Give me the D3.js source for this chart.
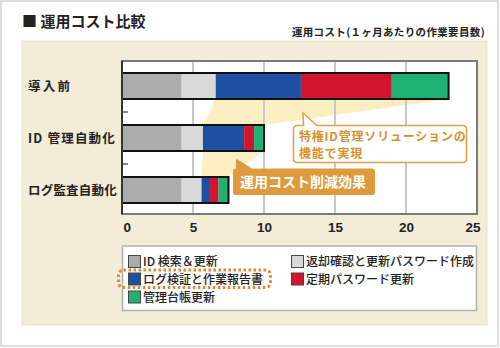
<!DOCTYPE html>
<html><head><meta charset="utf-8">
<script src="https://cdn.jsdelivr.net/npm/d3@7/dist/d3.min.js"></script>
<style>html,body{margin:0;padding:0;background:#fff;}svg{display:block;}</style>
</head><body>
<script>
// ---- data ----
const categories = ["導入前", "ID 管理自動化", "ログ監査自動化"];
const seriesNames = ["ID 検索＆更新", "返却確認と更新パスワード作成", "ログ検証と作業報告書", "定期パスワード更新", "管理台帳更新"];
const idSearch      = [4.2, 4.2, 4.2];
const returnConfirm = [2.4, 1.5, 1.4];
const logVerify     = [6.0, 2.9, 0.6];
const periodicPw    = [6.4, 0.7, 0.6];
const ledger        = [4.0, 0.7, 0.7];
const xTicks = [0, 5, 10, 15, 20, 25];
const titleText = "■ 運用コスト比較";
const unitText = "運用コスト(１ヶ月あたりの作業要員数)";
const callout1 = ["特権ID管理ソリューションの", "機能で実現"];
const callout2 = "運用コスト削減効果";

const seriesValues = [idSearch, returnConfirm, logVerify, periodicPw, ledger];
const colors = ["#acacac", "#d9d9d9", "#1d50a0", "#d2142e", "#1eb171"];

const W = 500, H = 348;
const jp = "'Noto Sans CJK JP', 'Noto Sans', sans-serif";
const svg = d3.select("body").append("svg").attr("width", W).attr("height", H);

// frame
svg.append("rect").attr("x", 1).attr("y", 1).attr("width", 497).attr("height", 345)
  .attr("fill", "#fff").attr("stroke", "#dedede").attr("stroke-width", 2);
svg.append("rect").attr("x", 22).attr("y", 41).attr("width", 465).attr("height", 284)
  .attr("fill", "#f3ecd7").attr("stroke", "#ebe2c8").attr("stroke-width", 1);

svg.append("text").attr("x", 22).attr("y", 27).attr("font-family", jp)
  .attr("font-size", 15).attr("font-weight", "bold").attr("fill", "#222").text(titleText);
svg.append("text").attr("x", 485).attr("y", 36).attr("text-anchor", "end").attr("font-family", jp)
  .attr("font-size", 10.5).attr("letter-spacing", 0.35).attr("font-weight", "bold").attr("fill", "#222").text(unitText);

// scales
const plot = {x0: 122, x1: 477, y0: 61, y1: 214};
const x = d3.scaleLinear().domain([0, 25]).range([plot.x0, plot.x1]);
const y = d3.scaleBand().domain(categories).range([60, 216]).paddingInner(0.5).paddingOuter(0.25);

// stacked data
const rows = categories.map((c, i) => {
  const o = {cat: c};
  seriesNames.forEach((s, j) => o[s] = seriesValues[j][i]);
  return o;
});
const stack = d3.stack().keys(seriesNames)(rows);

svg.append("rect").attr("x", plot.x0).attr("y", plot.y0).attr("width", plot.x1 - plot.x0)
  .attr("height", plot.y1 - plot.y0).attr("fill", "#fff");

// yellow wedges (from blue start to bar end)
const blue = stack[2], last = stack[stack.length - 1];
for (let i = 0; i < categories.length - 1; i++) {
  const yb = y(categories[i]) + y.bandwidth(), yt = y(categories[i + 1]);
  const pts = [[x(blue[i][0]), yb], [x(last[i][1]), yb], [x(last[i + 1][1]), yt], [x(blue[i + 1][0]), yt]];
  svg.append("path").attr("d", d3.line()(pts) + "Z").attr("fill", "#fdeec2");
}

// gridlines
svg.append("g").selectAll("line").data(xTicks.slice(1, -1)).join("line")
  .attr("x1", d => x(d)).attr("x2", d => x(d)).attr("y1", plot.y0).attr("y2", plot.y1)
  .attr("stroke", "#c8c8c8").attr("stroke-width", 2);

// bars
svg.append("g").selectAll("g").data(stack).join("g").attr("fill", (d, j) => colors[j])
  .selectAll("rect").data(d => d).join("rect")
  .attr("x", d => x(d[0])).attr("width", d => x(d[1]) - x(d[0]))
  .attr("y", d => y(d.data.cat)).attr("height", y.bandwidth());
svg.append("g").selectAll("rect").data(last).join("rect")
  .attr("x", x(0)).attr("width", d => x(d[1]) - x(0))
  .attr("y", d => y(d.data.cat)).attr("height", y.bandwidth())
  .attr("fill", "none").attr("stroke", "#111").attr("stroke-width", 2);

// plot border
svg.append("rect").attr("x", plot.x0).attr("y", plot.y0).attr("width", plot.x1 - plot.x0)
  .attr("height", plot.y1 - plot.y0).attr("fill", "none").attr("stroke", "#7a7a7a").attr("stroke-width", 2);
svg.append("line").attr("x1", plot.x0).attr("x2", plot.x0).attr("y1", plot.y0).attr("y2", plot.y1)
  .attr("stroke", "#333").attr("stroke-width", 2);
// category boundary ticks
svg.append("g").selectAll("line").data(categories.slice(1)).join("line")
  .attr("x1", plot.x0).attr("x2", plot.x0 + 6)
  .attr("y1", d => y(d) - y.step() * y.paddingInner() / 2).attr("y2", d => y(d) - y.step() * y.paddingInner() / 2)
  .attr("stroke", "#333").attr("stroke-width", 1.2);

// category labels
const ls = [2.3, 1.2, 0.2];
svg.append("g").selectAll("text").data(categories).join("text")
  .attr("x", 28).attr("y", d => y(d) + y.bandwidth() / 2 + 5)
  .attr("font-family", jp).attr("font-size", 12.5).attr("font-weight", "bold").attr("fill", "#222")
  .attr("letter-spacing", (d, i) => ls[i]).text(d => d);

// x axis
const ax = svg.append("g").attr("transform", `translate(0,${plot.y1})`)
  .call(d3.axisBottom(x).tickValues(xTicks).tickSize(0).tickPadding(9));
ax.select(".domain").remove();
ax.selectAll("text").attr("font-family", "'Liberation Sans', Arial, sans-serif")
  .attr("font-size", 13.5).attr("font-weight", "bold").attr("fill", "#222")
  .attr("text-anchor", (d, i) => i === 0 ? "start" : (i === xTicks.length - 1 ? "end" : "middle"))
  .attr("dx", (d, i) => i === 0 ? 1 : (i === xTicks.length - 1 ? 3 : 0))
  .attr("dy", "0.65em");

// callouts
function calloutPath(x0, y0, x1, y1, r, p0, ax_, ay, p1) {
  return `M${x0 + r},${y0} L${p0},${y0} L${ax_},${ay} L${p1},${y0} L${x1 - r},${y0} Q${x1},${y0} ${x1},${y0 + r}` +
    ` L${x1},${y1 - r} Q${x1},${y1} ${x1 - r},${y1} L${x0 + r},${y1} Q${x0},${y1} ${x0},${y1 - r} L${x0},${y0 + r} Q${x0},${y0} ${x0 + r},${y0} Z`;
}
svg.append("path").attr("d", calloutPath(293.5, 125.5, 466.5, 162.5, 4, 303.5, 303, 113, 317))
  .attr("fill", "#fff").attr("stroke", "#e2a24c").attr("stroke-width", 1.6);
svg.append("text").attr("font-family", jp).attr("font-size", 12).attr("font-weight", "bold")
  .attr("letter-spacing", 0.8).attr("fill", "#d8902f")
  .selectAll("tspan").data(callout1).join("tspan")
  .attr("x", 299).attr("y", (d, i) => 140.5 + i * 17.5).text(d => d);

svg.append("path").attr("d", calloutPath(233, 168.5, 375, 195, 3, 236, 236, 158.5, 252))
  .attr("fill", "#dd9b3e");
svg.append("text").attr("x", 240).attr("y", 187).attr("font-family", jp).attr("font-size", 14)
  .attr("font-weight", "bold").attr("fill", "#fff").text(callout2);

// legend
svg.append("rect").attr("x", 122.5).attr("y", 246).attr("width", 354).attr("height", 64.5)
  .attr("fill", "#fff").attr("stroke", "#b0b0b0").attr("stroke-width", 1.5);
const legPos = [[128.5, 261.5], [291.5, 261.5], [128.5, 279], [291.5, 279], [128.5, 297]];
const leg = svg.append("g").selectAll("g").data(seriesNames).join("g")
  .attr("transform", (d, i) => `translate(${legPos[i][0]},${legPos[i][1]})`);
leg.append("rect").attr("x", 0).attr("y", -6).attr("width", 12).attr("height", 12)
  .attr("fill", (d, i) => colors[i]).attr("stroke", "#444").attr("stroke-width", 1);
leg.append("text").attr("x", 14.5).attr("y", 4.7).attr("font-family", jp).attr("font-size", 12)
  .attr("font-weight", 500).attr("fill", "#222").text(d => d);

svg.append("rect").attr("x", 118.5).attr("y", 270).attr("width", 152).attr("height", 17.5).attr("rx", 5)
  .attr("fill", "none").attr("stroke", "#e8862a").attr("stroke-width", 3).attr("stroke-dasharray", "2.5 2.5");
</script>
</body></html>
